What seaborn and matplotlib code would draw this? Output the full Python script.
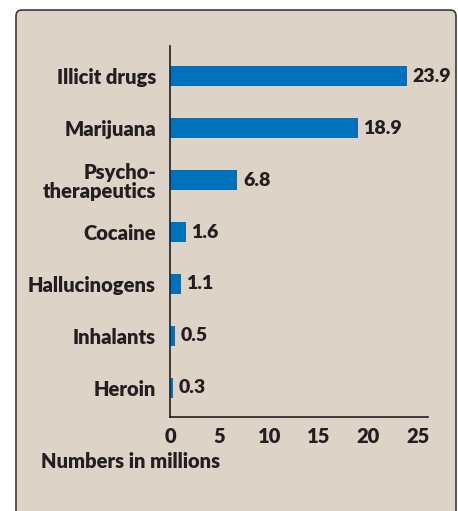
import matplotlib
matplotlib.use("Agg")
import matplotlib.pyplot as plt
from matplotlib.patches import FancyBboxPatch
import pandas as pd
import seaborn as sns

# data
drugs = ["Illicit drugs", "Marijuana", "Psycho-\ntherapeutics", "Cocaine",
         "Hallucinogens", "Inhalants", "Heroin"]
users_millions = [23.9, 18.9, 6.8, 1.6, 1.1, 0.5, 0.3]
x_ticks = [0, 5, 10, 15, 20, 25]

df = pd.DataFrame({"drug": drugs, "users": users_millions})

sns.set_style("white")
plt.rcParams["font.family"] = ["Lato", "DejaVu Sans"]

ink = "#231f20"
blue = "#0071bc"
panel_col = "#ddd3c7"
wt = "heavy"

fig = plt.figure(figsize=(4.58, 5.11), dpi=100)
fig.patch.set_facecolor("white")

# beige rounded panel, runs off the bottom edge
panel = FancyBboxPatch((0.16, -0.3), 4.40, 5.31,
                       boxstyle="round,pad=0,rounding_size=0.06",
                       transform=fig.dpi_scale_trans,
                       facecolor=panel_col, edgecolor="#3a3a3a", linewidth=1.2,
                       zorder=-5)
fig.patches.append(panel)

ax = fig.add_axes([170 / 458, 1 - 417 / 511, 258 / 458, (417 - 46) / 511])
ax.set_facecolor("none")
ax.set_zorder(2)

sns.barplot(data=df, x="users", y="drug", orient="h", color=blue,
            width=0.38, saturation=1, linewidth=0, ax=ax)

for c in ax.containers:
    ax.bar_label(c, fmt="%.1f", padding=4, fontsize=14, fontweight=wt,
                 color=ink, clip_on=False)

ax.set_xlim(0, 26)
ax.set_ylim(6.56, -0.58)
ax.set_xticks(x_ticks)
ax.set_xlabel("")
ax.set_ylabel("")

for s in ["top", "right"]:
    ax.spines[s].set_visible(False)
for s in ["left", "bottom"]:
    ax.spines[s].set_color(ink)
    ax.spines[s].set_linewidth(1.2)

ax.tick_params(axis="x", direction="in", length=5, width=1.2, color=ink,
               pad=7, labelsize=14.5, labelcolor=ink)
ax.tick_params(axis="y", length=0, pad=10, labelsize=14.5, labelcolor=ink)
for lab in ax.get_xticklabels() + ax.get_yticklabels():
    lab.set_fontweight(wt)
for lab in ax.get_yticklabels():
    lab.set_linespacing(1.05)

fig.text(41 / 458, 1 - 462 / 511, "Numbers in millions", ha="left",
         va="center", fontsize=14.5, fontweight=wt, color=ink)

fig.savefig("out.png", dpi=100, facecolor=fig.get_facecolor())
